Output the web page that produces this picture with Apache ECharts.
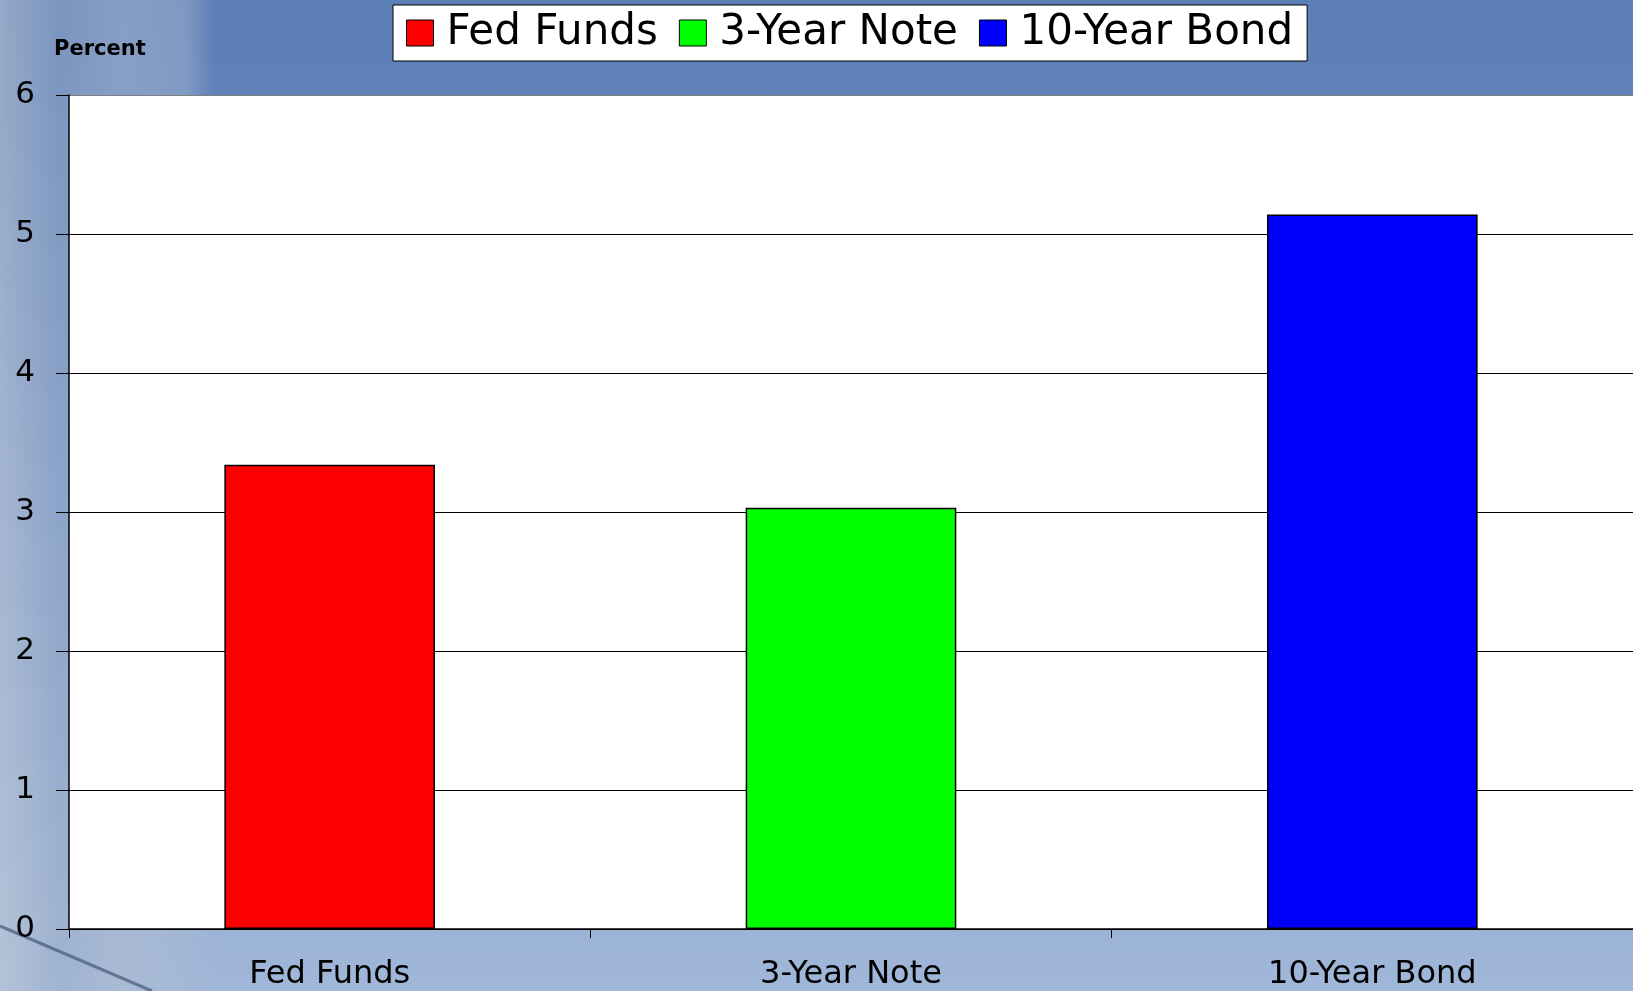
<!DOCTYPE html>
<html>
<head>
<meta charset="utf-8">
<title>Fed Funds, 3-Year Note and 10-Year Bond</title>
<script src="https://cdn.jsdelivr.net/npm/echarts@6/dist/echarts.min.js"></script>
<style>
  html, body { margin: 0; padding: 0; }
  body {
    width: 1633px; height: 991px; overflow: hidden;
    background:
      linear-gradient(to right,
        rgba(196,204,214,0.55) 0px, rgba(160,176,200,0.45) 60px,
        rgba(178,190,208,0.50) 120px, rgba(170,186,210,0.45) 185px,
        rgba(150,170,205,0.0) 215px),
      linear-gradient(to bottom, #5b7eb6 0px, #5f82b9 110px, #7c9acb 500px, #9ab2d6 900px, #a0b7d9 991px);
  }
  #chart { width: 1633px; height: 991px; }
</style>
</head>
<body>
<div id="chart"></div>
<script>
// Interest rates by instrument, in percent
const categories = ['Fed Funds', '3-Year Note', '10-Year Bond'];
const seriesNames = ['Fed Funds', '3-Year Note', '10-Year Bond'];
const rateValues = [3.34, 3.03, 5.14];
const barColors = ['#ff0000', '#00ff00', '#0000ff'];
const yTicks = { min: 0, max: 6, step: 1 };

const FONT = 'DejaVu Sans';

// One series per instrument so each gets its own legend entry;
// the bar sits on its own category, with nulls elsewhere.
const series = seriesNames.map((name, i) => ({
  name: name,
  type: 'bar',
  barWidth: '40.4%',
  barGap: '-100%',
  itemStyle: { color: barColors[i], borderColor: '#000', borderWidth: 1.5 },
  data: categories.map((c, j) => (j === i ? rateValues[i] : null))
}));

const chart = echarts.init(document.getElementById('chart'), null, { renderer: 'canvas' });
chart.setOption({
  animation: false,
  backgroundColor: 'transparent',
  title: {
    text: 'Percent',
    left: 54, top: 39, padding: 0,
    textStyle: { fontFamily: FONT, fontSize: 21, fontWeight: 'bold', color: '#000' }
  },
  legend: {
    data: seriesNames,
    left: 393, top: 5,
    padding: [7, 14, 7, 13],
    itemGap: 21,
    itemWidth: 27, itemHeight: 26,
    backgroundColor: '#ffffff',
    borderColor: '#000', borderWidth: 1,
    icon: 'rect',
    itemStyle: { borderColor: '#000', borderWidth: 1 },
    textStyle: { fontFamily: FONT, fontSize: 42, color: '#000', padding: [0, 0, 0, 8] }
  },
  grid: {
    show: true,
    left: 69, top: 95, width: 1569, height: 838,
    backgroundColor: '#ffffff', borderWidth: 0
  },
  xAxis: {
    type: 'category',
    data: categories,
    axisLine: { lineStyle: { color: '#000', width: 1.5 } },
    axisTick: { show: true, length: 9, lineStyle: { color: '#000' } },
    axisLabel: { fontFamily: FONT, fontSize: 32, color: '#000', margin: 30 }
  },
  yAxis: {
    type: 'value',
    min: yTicks.min, max: yTicks.max, interval: yTicks.step,
    axisLine: { show: true, lineStyle: { color: '#000', width: 1.5 } },
    axisTick: { show: true, length: 13, lineStyle: { color: '#000' } },
    axisLabel: { fontFamily: FONT, fontSize: 31, color: '#000', margin: 34 },
    splitLine: {
      show: true,
      lineStyle: { color: ['#000', '#000', '#000', '#000', '#000', '#000', '#808080'], width: 1.2 }
    }
  },
  graphic: [{
    type: 'line',
    silent: true,
    z: -1,
    shape: { x1: 0, y1: 926, x2: 152, y2: 991 },
    style: { stroke: 'rgba(60,80,115,0.65)', lineWidth: 3 }
  }],
  series: series
});
</script>
</body>
</html>
